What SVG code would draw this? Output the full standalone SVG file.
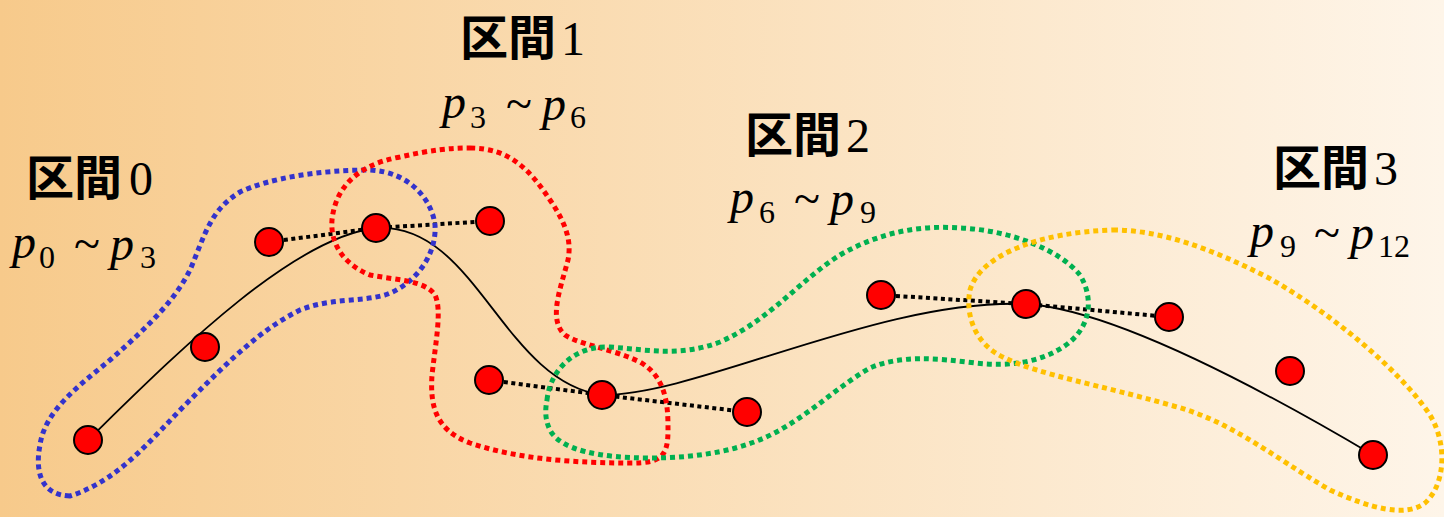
<svg xmlns="http://www.w3.org/2000/svg" width="1444" height="517" viewBox="0 0 1444 517">
<defs>
<linearGradient id="bg" x1="0" y1="0" x2="1" y2="0">
<stop offset="0" stop-color="#f7ca8b"/>
<stop offset="1" stop-color="#fef5e9"/>
</linearGradient>
<style>
.pt{fill:#ff0000;stroke:#000;stroke-width:2}
.curve{fill:none;stroke:#000;stroke-width:1.8}
.tan{fill:none;stroke:#000;stroke-width:4;stroke-dasharray:4 3.5}
.loop{fill:none;stroke-width:5;stroke-dasharray:5 4}
.k{font-family:"Noto Sans CJK JP","Noto Sans CJK SC",sans-serif;font-weight:700;font-size:48px;fill:#000}
.d{font-family:"Liberation Serif",serif;font-weight:400;font-size:48px;fill:#000}
.p{font-family:"Liberation Serif",serif;font-style:italic;font-size:48px;fill:#000}
.s{font-family:"Liberation Serif",serif;font-size:32px;fill:#000}
.t{font-family:"Liberation Serif",serif;font-size:48px;fill:#000}
</style>
</defs>
<rect x="0" y="0" width="1444" height="517" fill="url(#bg)"/>

<g id="connectors">
<path class="curve" d="M88,440 C170,360 290,238 376,228 C476,222 502,381 602,395 C700,395 880,298 1026,304 C1120,310 1280,400 1373,455"/>
<polyline class="tan" points="269,242 376,228 490,221"/>
<polyline class="tan" points="489,380 602,395 747,412"/>
<polyline class="tan" points="881,295 1026,304 1169,317"/>
</g>

<g id="loops">
<path id="loop0" class="loop" stroke="#3333cc" d="M70,496 C40,495 35,470 40,445 C45,410 80,385 110,360 C150,325 175,300 190,270 C205,235 210,210 240,192 C270,178 320,170 370,170 C410,172 432,200 435,225 C437,255 415,285 385,295 C360,302 330,298 300,310 C260,330 230,360 190,400 C150,440 120,480 70,496 Z"/>
<path id="loop1" class="loop" stroke="#ff0000" d="M470,148 C510,148 530,170 550,200 C565,222 572,240 568,260 C560,290 548,320 565,335 C580,345 610,348 640,362 C668,378 668,410 668,430 C668,458 660,463 630,463 C580,463 520,460 470,443 C435,430 430,405 432,375 C436,340 442,310 435,295 C425,280 395,280 370,275 C345,265 330,245 332,220 C335,190 355,165 400,157 C430,150 450,148 470,148 Z"/>
<path id="loop2" class="loop" stroke="#00b050" d="M547,400 C550,370 575,345 610,347 C650,350 680,357 720,342 C770,320 800,280 840,255 C880,232 920,225 960,228 C1010,230 1060,250 1080,275 C1095,300 1090,330 1063,347 C1040,362 1010,367 975,363 C935,358 900,355 870,368 C840,385 815,410 780,430 C745,450 700,458 650,458 C600,458 560,450 550,430 C545,420 545,410 547,400 Z"/>
<path id="loop3" class="loop" stroke="#ffc000" d="M1113,230 C1160,230 1210,248 1267,277 C1330,312 1400,370 1430,415 C1448,445 1445,485 1425,503 C1405,518 1370,508 1330,490 C1270,455 1230,420 1170,405 C1100,385 1040,375 1005,358 C975,345 965,315 970,290 C980,255 1040,232 1113,230 Z"/>
</g>

<g id="p0"><circle class="pt" cx="88" cy="440" r="14"/></g>
<g id="p1"><circle class="pt" cx="205" cy="347" r="14"/></g>
<g id="p2"><circle class="pt" cx="269" cy="242" r="14"/></g>
<g id="p3"><circle class="pt" cx="376" cy="228" r="14"/></g>
<g id="p4"><circle class="pt" cx="490" cy="221" r="14"/></g>
<g id="p5"><circle class="pt" cx="489" cy="380" r="14"/></g>
<g id="p6"><circle class="pt" cx="602" cy="395" r="14"/></g>
<g id="p7"><circle class="pt" cx="747" cy="412" r="14"/></g>
<g id="p8"><circle class="pt" cx="881" cy="295" r="14"/></g>
<g id="p9"><circle class="pt" cx="1026" cy="304" r="14"/></g>
<g id="p10"><circle class="pt" cx="1169" cy="317" r="14"/></g>
<g id="p11"><circle class="pt" cx="1290" cy="371" r="14"/></g>
<g id="p12"><circle class="pt" cx="1373" cy="455" r="14"/></g>

<g id="label0">
<text class="k" x="26" y="195">区間<tspan class="d" x="129">0</tspan></text>
<text y="258"><tspan class="p" x="12">p</tspan><tspan class="s" x="39" y="268">0</tspan><tspan class="t" x="74" y="260">~</tspan><tspan class="p" x="110">p</tspan><tspan class="s" x="140" y="268">3</tspan></text>
</g>
<g id="label1">
<text class="k" x="460" y="55">区間<tspan class="d" x="561">1</tspan></text>
<text y="118"><tspan class="p" x="442">p</tspan><tspan class="s" x="470" y="128">3</tspan><tspan class="t" x="506" y="120">~</tspan><tspan class="p" x="542">p</tspan><tspan class="s" x="570" y="128">6</tspan></text>
</g>
<g id="label2">
<text class="k" x="745" y="152">区間<tspan class="d" x="846">2</tspan></text>
<text y="213"><tspan class="p" x="730">p</tspan><tspan class="s" x="759" y="223">6</tspan><tspan class="t" x="794" y="215">~</tspan><tspan class="p" x="830">p</tspan><tspan class="s" x="860" y="223">9</tspan></text>
</g>
<g id="label3">
<text class="k" x="1273" y="185">区間<tspan class="d" x="1374">3</tspan></text>
<text y="247"><tspan class="p" x="1250">p</tspan><tspan class="s" x="1280" y="257">9</tspan><tspan class="t" x="1314" y="249">~</tspan><tspan class="p" x="1350">p</tspan><tspan class="s" x="1378" y="257">12</tspan></text>
</g>
</svg>
